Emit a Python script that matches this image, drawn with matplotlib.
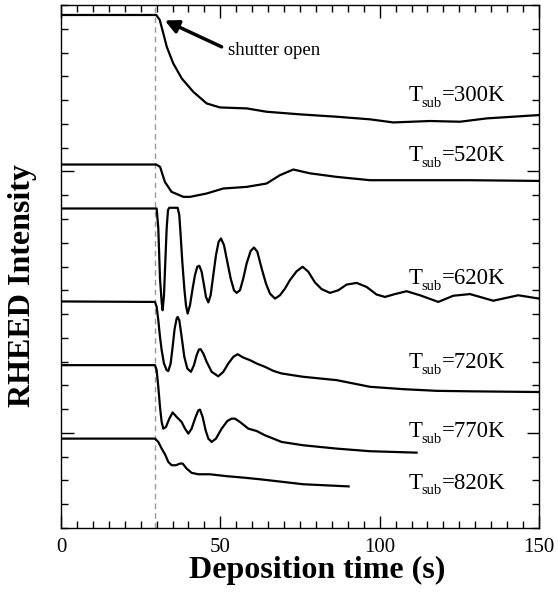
import matplotlib
matplotlib.use('Agg')
import matplotlib.pyplot as plt
from matplotlib.ticker import MultipleLocator, FixedLocator

plt.rcParams['font.family'] = ['Liberation Serif', 'DejaVu Serif']

# RHEED intensity traces (arbitrary units)
t300 = [0, 29.9, 31.0, 32.1, 33.2, 35.2, 37.9, 41.5, 45.7, 49.9, 58.3, 64.5, 75.0,
        86.5, 97.0, 104.3, 115.8, 125.2, 133.6, 150.0]
i300 = [21.58, 21.58, 21.37, 20.81, 20.24, 19.55, 18.91, 18.35, 17.86, 17.69, 17.65,
        17.51, 17.40, 17.30, 17.19, 17.06, 17.12, 17.09, 17.23, 17.37]

t520 = [0, 29.9, 31.1, 32.6, 34.7, 38.4, 40.5, 45.7, 50.9, 58.3, 64.5, 68.7, 72.9,
        78.1, 86.5, 97.0, 128.3, 150.0]
i520 = [15.29, 15.29, 15.19, 14.56, 14.14, 13.93, 13.93, 14.07, 14.28, 14.35, 14.49,
        14.84, 15.08, 14.92, 14.77, 14.63, 14.63, 14.60]

t620 = [0, 30.02, 30.54, 31.07, 31.59, 31.90, 32.32, 32.74, 33.16, 33.58, 33.99,
        36.61, 37.13, 37.55, 38.07, 38.70, 39.22, 39.75, 40.48, 41.32, 42.05, 42.78,
        43.41, 44.14, 44.87, 45.50, 46.23, 46.96, 47.80, 48.64, 49.47, 50.21, 51.15,
        52.19, 53.24, 54.29, 55.12, 56.17, 57.21, 58.26, 59.51, 60.56, 61.61, 62.97,
        64.33, 65.58, 67.15, 68.72, 70.29, 71.86, 73.95, 75.83, 77.61, 79.70, 81.79,
        84.41, 87.02, 89.64, 92.78, 95.91, 99.05, 101.67, 104.80, 108.46, 112.65,
        118.40, 123.11, 128.34, 135.66, 143.50, 150.0]
i620 = [13.44, 13.44, 12.60, 10.50, 9.51, 9.16, 9.79, 11.20, 12.60, 13.37, 13.47,
        13.47, 13.16, 12.32, 11.20, 10.08, 9.37, 9.02, 9.37, 10.08, 10.64, 10.99,
        11.03, 10.78, 10.22, 9.72, 9.49, 9.79, 10.64, 11.48, 12.04, 12.18, 11.90,
        11.20, 10.50, 10.00, 9.89, 10.00, 10.50, 11.13, 11.65, 11.80, 11.62, 10.92,
        10.28, 9.86, 9.65, 9.79, 10.07, 10.43, 10.80, 10.99, 10.78, 10.33, 10.05,
        9.89, 10.00, 10.24, 10.31, 10.14, 9.82, 9.72, 9.84, 9.96, 9.79,
        9.51, 9.77, 9.84, 9.56, 9.79, 9.65]

t720 = [0, 29.50, 30.02, 30.54, 31.07, 31.59, 32.32, 33.16, 33.68, 34.41, 35.04,
        35.67, 36.30, 36.61, 37.13, 37.86, 38.70, 39.64, 40.79, 41.73, 42.57, 43.30,
        43.83, 44.66, 45.71, 47.28, 49.37, 50.94, 52.51, 54.08, 55.44, 57.21, 59.31,
        61.40, 64.01, 66.63, 69.24, 76.04, 86.50, 96.96, 107.42, 117.88, 128.33, 150.0]
i720 = [9.53, 9.51, 9.30, 8.74, 8.04, 7.48, 6.92, 6.64, 6.60, 6.92, 7.62,
        8.39, 8.81, 8.88, 8.74, 8.04, 7.20, 6.71, 6.57, 6.85, 7.27, 7.51,
        7.52, 7.34, 6.99, 6.57, 6.38, 6.57, 6.92, 7.20, 7.31, 7.17, 7.06,
        6.92, 6.78, 6.61, 6.50, 6.36, 6.22, 5.94, 5.84, 5.77, 5.75, 5.72]

t770 = [0, 29.50, 30.02, 30.54, 31.07, 31.59, 32.11, 32.95, 33.99, 35.04, 36.30,
        37.86, 38.91, 39.96, 41.00, 42.05, 43.09, 43.62, 44.45, 45.39, 46.23, 47.28,
        48.64, 50.42, 52.19, 53.55, 54.60, 56.17, 58.78, 61.40, 64.01, 66.63, 69.24,
        76.04, 86.50, 96.96, 111.6]
i770 = [6.85, 6.85, 6.64, 5.93, 5.09, 4.46, 4.18, 4.25, 4.60, 4.86, 4.67,
        4.46, 4.18, 3.97, 4.18, 4.60, 4.95, 4.98, 4.67, 4.11, 3.76, 3.62,
        3.76, 4.18, 4.50, 4.60, 4.60, 4.46, 4.18, 4.08, 3.90, 3.76, 3.62,
        3.48, 3.34, 3.23, 3.17]

t820 = [0, 29.50, 30.54, 31.59, 32.64, 33.68, 34.73, 36.09, 37.34, 38.18, 39.43,
        41.00, 43.09, 46.75, 51.98, 57.21, 62.44, 67.67, 76.04, 90.26]
i820 = [3.76, 3.76, 3.62, 3.34, 3.10, 2.78, 2.64, 2.64, 2.71, 2.71, 2.50,
        2.32, 2.26, 2.26, 2.18, 2.12, 2.05, 1.97, 1.84, 1.75]

temps = ['300K', '520K', '620K', '720K', '770K', '820K']
label_y = [17.97, 15.45, 10.25, 6.71, 3.83, 1.66]
shutter_t = 29.65

fig = plt.figure(figsize=(5.58, 5.95), dpi=100)
ax = fig.add_axes([0.1093, 0.1126, 0.8566, 0.879])

ax.axvline(shutter_t, color='#999999', lw=1.0, ls=(0, (4, 3)), zorder=1)

for t, i in [(t300, i300), (t520, i520), (t620, i620),
             (t720, i720), (t770, i770), (t820, i820)]:
    ax.plot(t, i, color='k', lw=1.6, zorder=3)

# T_sub labels: built from three pieces so the subscript sits low like the original
for temp, y in zip(temps, label_y):
    ax.text(109.0, y, 'T', fontsize=16.5, ha='left', va='baseline')
    ax.annotate('sub', (109.0, y), xytext=(9.4, -4.2), textcoords='offset points',
                fontsize=10.5, ha='left', va='baseline')
    ax.annotate('=' + temp, (109.0, y), xytext=(24.0, 0), textcoords='offset points',
                fontsize=16.5, ha='left', va='baseline')

ax.annotate('', xy=(32.6, 21.35), xytext=(50.4, 20.24),
            arrowprops=dict(arrowstyle='-|>,head_length=0.8,head_width=0.4',
                            lw=2.5, color='k', shrinkA=0, shrinkB=0))
ax.text(52.5, 19.89, 'shutter open', fontsize=13.5, ha='left', va='baseline')

ax.set_xlim(0, 150)
ax.set_ylim(0, 22)
ax.xaxis.set_major_locator(MultipleLocator(50))
ax.xaxis.set_minor_locator(MultipleLocator(5))
ax.yaxis.set_major_locator(FixedLocator([4, 15]))
ax.yaxis.set_minor_locator(MultipleLocator(1))
ax.tick_params(which='both', direction='in', top=True, right=True, width=1.0)
ax.tick_params(which='major', length=9)
ax.tick_params(which='minor', length=5)
ax.tick_params(axis='x', labelsize=15, pad=7)
ax.set_yticklabels([])
for s in ax.spines.values():
    s.set_linewidth(1.0)

ax.set_xlabel('Deposition time (s)', fontsize=23, fontweight='bold')
ax.xaxis.set_label_coords(0.537, -0.054)
ax.set_ylabel('RHEED Intensity', fontsize=23, fontweight='bold')
ax.yaxis.set_label_coords(-0.050, 0.463)

fig.savefig('out.png', dpi=100)
